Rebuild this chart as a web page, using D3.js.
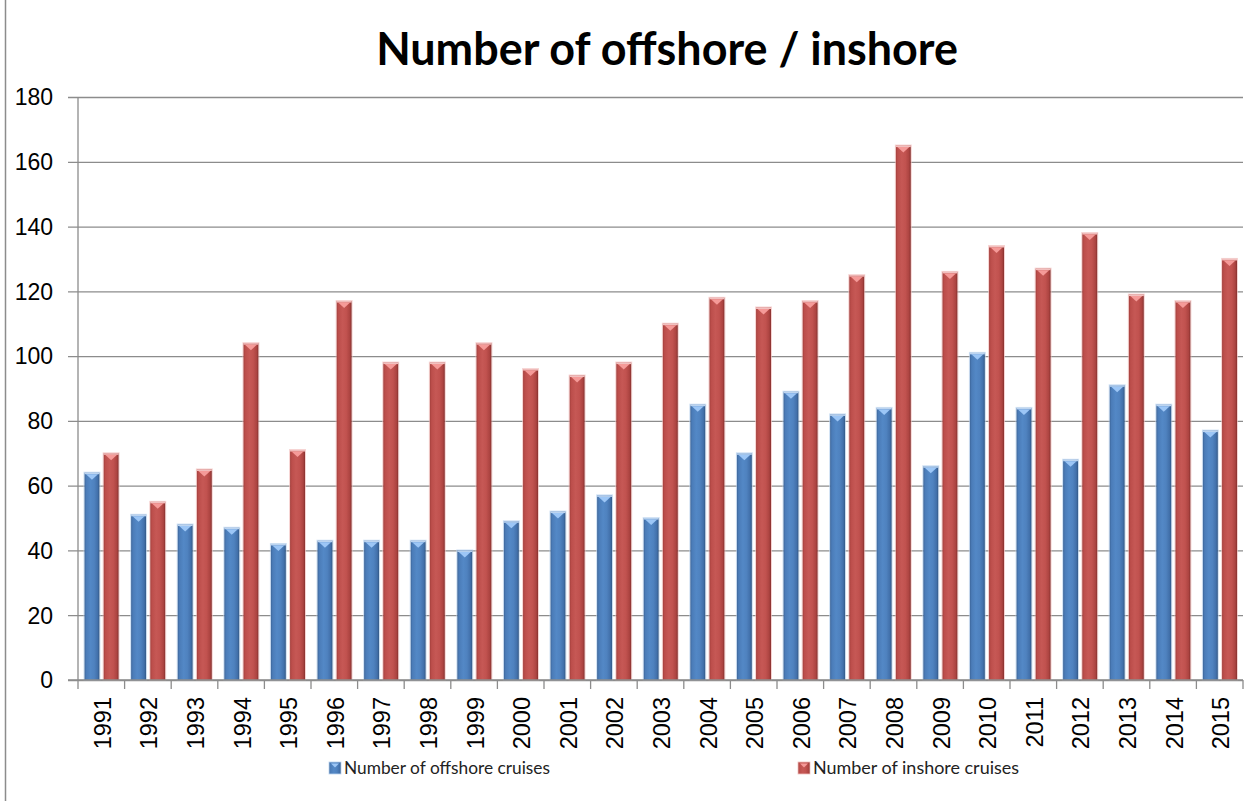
<!DOCTYPE html>
<html>
<head>
<meta charset="utf-8">
<script src="https://cdn.jsdelivr.net/npm/d3@7"></script>
<style>
  html, body { margin: 0; padding: 0; background: #fff; }
  svg { display: block; }
</style>
</head>
<body>
<svg id="chart" width="1257" height="805"></svg>
<script>
// Cruise counts per year
const years = ["1991","1992","1993","1994","1995","1996","1997","1998","1999","2000",
               "2001","2002","2003","2004","2005","2006","2007","2008","2009","2010",
               "2011","2012","2013","2014","2015"];
const offshore = [64, 51, 48, 47, 42, 43, 43, 43, 40, 49,
                  52, 57, 50, 85, 70, 89, 82, 84, 66, 101,
                  84, 68, 91, 85, 77];
const inshore  = [70, 55, 65, 104, 71, 117, 98, 98, 104, 96,
                  94, 98, 110, 118, 115, 117, 125, 165, 126, 134,
                  127, 138, 119, 117, 130];
const seriesNames = ["Number of offshore cruises", "Number of inshore cruises"];
const yTicks = [0, 20, 40, 60, 80, 100, 120, 140, 160, 180];
const titleText = "Number of offshore / inshore";

const W = 1257, H = 805;
const margin = { top: 97, right: 14, bottom: 125, left: 78 };
const plotW = W - margin.left - margin.right;
const plotH = H - margin.top - margin.bottom;

const svg = d3.select("#chart");
const defs = svg.append("defs");

// Shaded fills: darker at the edges, lighter towards the middle
const palettes = [
  { id: "gBlue", stops: ["#3d669a", "#4b7cb8", "#5388c6", "#4f82bf", "#4270aa", "#335885"],
    bevel: "#9cc6f6", rim: "#bcd4f0" },
  { id: "gRed",  stops: ["#a4403d", "#bc4e4b", "#c65855", "#c1524f", "#ac4441", "#86302e"],
    bevel: "#f59a98", rim: "#f2c0bf" }
];
palettes.forEach(p => {
  const g = defs.append("linearGradient").attr("id", p.id)
    .attr("x1", "0%").attr("x2", "100%").attr("y1", "0%").attr("y2", "0%");
  const offs = [0, 0.12, 0.4, 0.65, 0.88, 1];
  p.stops.forEach((c, i) => g.append("stop").attr("offset", offs[i]).attr("stop-color", c));
});

const x0 = d3.scaleBand().domain(years).range([margin.left, margin.left + plotW]).padding(0);
const x1 = d3.scaleBand().domain([0, 1]).range([6.5, x0.bandwidth() - 6]).paddingInner(0.22);
const y = d3.scaleLinear().domain([0, 180]).range([margin.top + plotH, margin.top]);

// Horizontal gridlines with short ticks to the left
const gy = svg.append("g").attr("transform", `translate(${margin.left + plotW},0)`)
  .call(d3.axisLeft(y).tickValues(yTicks).tickSize(plotW + 10).tickFormat(""));
gy.select(".domain").remove();
gy.selectAll(".tick line").attr("stroke", "#8c8c8c").attr("stroke-width", 1.3);

// Y tick labels
svg.append("g").selectAll("text").data(yTicks).join("text")
  .attr("x", 53).attr("y", d => y(d)).attr("dy", "0.36em")
  .attr("text-anchor", "end")
  .attr("font-family", "Liberation Sans, Arial, sans-serif")
  .attr("font-size", 23).attr("fill", "#000")
  .text(d => d);

// Bars
const groups = svg.append("g").selectAll("g").data(years).join("g")
  .attr("transform", d => `translate(${x0(d)},0)`);

const rows = (yr, i) => [offshore[i], inshore[i]].map((v, s) => ({ s, v }));
const bars = groups.selectAll("g.bar").data((d, i) => rows(d, i)).join("g").attr("class", "bar");

bars.append("rect")
  .attr("x", d => x1(d.s) - 0.5)
  .attr("y", d => y(d.v) - 0.5)
  .attr("width", x1.bandwidth() + 1)
  .attr("height", d => y(0) - y(d.v) + 0.5)
  .attr("fill", "none")
  .attr("stroke", d => palettes[d.s].rim)
  .attr("stroke-opacity", 0.7)
  .attr("stroke-width", 1);

bars.append("rect")
  .attr("x", d => x1(d.s))
  .attr("y", d => y(d.v))
  .attr("width", x1.bandwidth())
  .attr("height", d => y(0) - y(d.v))
  .attr("fill", d => `url(#${palettes[d.s].id})`);

// Bevelled top edge
bars.append("rect")
  .attr("x", d => x1(d.s))
  .attr("y", d => y(d.v))
  .attr("width", x1.bandwidth())
  .attr("height", 1.5)
  .attr("fill", d => palettes[d.s].rim);

bars.append("path")
  .attr("d", d => {
    const bx = x1(d.s), bw = x1.bandwidth(), by = y(d.v);
    return `M${bx + 1.5},${by + 1.5}L${bx + bw - 1.5},${by + 1.5}L${bx + bw / 2},${by + 7}Z`;
  })
  .attr("fill", d => palettes[d.s].bevel);

// Value axis line
svg.append("line")
  .attr("x1", margin.left).attr("x2", margin.left)
  .attr("y1", y(180)).attr("y2", y(0))
  .attr("stroke", "#8c8c8c").attr("stroke-width", 1.3);

// Category axis with boundary ticks
const boundaries = years.map(d => x0(d)).concat([x0(years[years.length - 1]) + x0.bandwidth()]);
svg.append("line")
  .attr("x1", margin.left - 10).attr("x2", margin.left + plotW)
  .attr("y1", y(0)).attr("y2", y(0))
  .attr("stroke", "#8c8c8c").attr("stroke-width", 1.3);
svg.append("g").selectAll("line").data(boundaries).join("line")
  .attr("x1", d => d).attr("x2", d => d)
  .attr("y1", y(0)).attr("y2", y(0) + 9)
  .attr("stroke", "#8c8c8c").attr("stroke-width", 1.3);

// Rotated year labels
svg.append("g").selectAll("text").data(years).join("text")
  .attr("transform", d => `translate(${x0(d) + x0.bandwidth() / 2 + 1},${y(0) + 17}) rotate(-90)`)
  .attr("dy", "0.36em")
  .attr("text-anchor", "end")
  .attr("font-family", "Liberation Sans, Arial, sans-serif")
  .attr("font-size", 23.5).attr("fill", "#000")
  .text(d => d);

// Size text so it spans a given width
function fitWidth(sel, width) {
  const base = parseFloat(sel.attr("font-size"));
  const w = sel.node().getComputedTextLength();
  sel.attr("font-size", base * width / w);
}

// Title
const title = svg.append("text")
  .attr("x", 667).attr("y", 65)
  .attr("text-anchor", "middle")
  .attr("font-family", "Lato, 'Open Sans', sans-serif")
  .attr("font-weight", 700)
  .attr("font-size", 40).attr("fill", "#000")
  .text(titleText);
fitWidth(title, 582);

// Legend
const legendX = [329, 798];
const legend = svg.append("g").selectAll("g").data(seriesNames).join("g")
  .attr("transform", (d, i) => `translate(${legendX[i]},762)`);
legend.append("rect")
  .attr("width", 12).attr("height", 12)
  .attr("fill", (d, i) => `url(#${palettes[i].id})`)
  .attr("stroke", (d, i) => palettes[i].rim).attr("stroke-width", 0.8);
legend.append("path")
  .attr("d", "M2,1.5L10,1.5L6,5.5Z")
  .attr("fill", (d, i) => palettes[i].bevel);
legend.append("text")
  .attr("x", 15).attr("y", 6).attr("dy", "0.36em")
  .attr("font-family", "Lato, 'Open Sans', sans-serif")
  .attr("font-size", 16).attr("fill", "#222")
  .text(d => d)
  .each(function () { fitWidth(d3.select(this), 206); });

// Chart frame edge
svg.append("line")
  .attr("x1", 5.5).attr("x2", 5.5).attr("y1", 0).attr("y2", 801)
  .attr("stroke", "#8c8c8c").attr("stroke-width", 1.5);
</script>
</body>
</html>
